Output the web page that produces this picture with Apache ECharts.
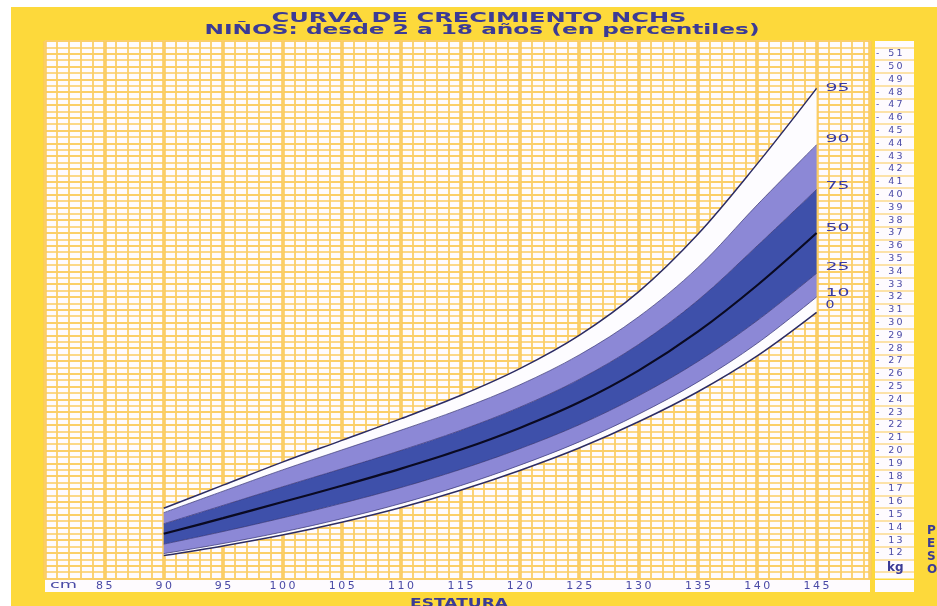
<!DOCTYPE html>
<html>
<head>
<meta charset="utf-8">
<script src="https://cdn.jsdelivr.net/npm/echarts@6/dist/echarts.min.js"></script>
<style>
html,body{margin:0;padding:0;background:#ffffff;}
#frame{position:absolute;left:11px;top:7px;width:926px;height:599px;background:#FDD93B;}
#strip{position:absolute;left:45px;top:580px;width:825px;height:12px;background:#FEFBFE;}
#box{position:absolute;left:875px;top:580px;width:39px;height:12px;background:#FEFBFE;}
#chart{position:absolute;left:0;top:0;width:937px;height:606px;}
</style>
</head>
<body>
<div id="frame"></div>
<div id="strip"></div>
<div id="box"></div>
<div id="chart"></div>
<script>
// ---------- data ----------
const heightCm = [90, 95, 100, 105, 110, 115, 120, 125, 130, 135, 140, 145];
const p0  = [11.8, 12.55, 13.4, 14.4, 15.55, 16.9, 18.45, 20.2, 22.25, 24.6, 27.4, 30.8];
const p10 = [11.95, 12.74, 13.64, 14.68, 15.87, 17.26, 18.86, 20.68, 22.84, 25.36, 28.38, 32.0];
const p25 = [12.69, 13.68, 14.74, 15.88, 17.12, 18.53, 20.15, 22.02, 24.28, 26.96, 30.16, 33.85];
const p50 = [13.5, 14.72, 15.98, 17.25, 18.59, 20.06, 21.77, 23.77, 26.25, 29.29, 32.92, 37.0];
const p75 = [14.28, 15.72, 17.17, 18.58, 20.02, 21.58, 23.39, 25.56, 28.29, 31.74, 36.0, 40.4];
const p90 = [15.15, 16.83, 18.49, 20.05, 21.6, 23.24, 25.14, 27.47, 30.45, 34.31, 39.2, 43.9];
const p95 = [15.5, 17.3, 19.1, 20.8, 22.5, 24.3, 26.4, 29.0, 32.4, 36.9, 42.4, 48.3];
const percentileNames = ['0', '10', '25', '50', '75', '90', '95'];
const cmTicks = [85, 90, 95, 100, 105, 110, 115, 120, 125, 130, 135, 140, 145];
const kgTicks = [12,13,14,15,16,17,18,19,20,21,22,23,24,25,26,27,28,29,30,31,32,33,34,35,36,37,38,39,40,41,42,43,44,45,46,47,48,49,50,51];
const titleLine1 = 'CURVA DE CRECIMIENTO NCHS';
const titleLine2 = 'NIÑOS: desde 2 a 18 años (en percentiles)';
const xTitle = 'ESTATURA';
const yTitle = ['P', 'E', 'S', 'O'];
const xUnit = 'cm';
const yUnit = 'kg';

// ---------- styles ----------
const BLUE = '#3b3b96';
const LABEL_BLUE = '#4a4aa6';
const WHITE_BAND = '#FDFCFF';
const LIGHT_BAND = '#8C88D6';
const DARK_BAND = '#3E50AA';
const FONT = 'DejaVu Sans';
const SMOOTH = 0.35;

function spaced(s, cls) {
  return String(s).split('').map(c => '{' + cls + '|' + c + '}').join('');
}

const chart = echarts.init(document.getElementById('chart'), null, {renderer: 'canvas'});

const curves = [p0, p10, p25, p50, p75, p90, p95];
const bandColors = [WHITE_BAND, LIGHT_BAND, DARK_BAND, DARK_BAND, LIGHT_BAND, WHITE_BAND];

// Points are given as [weight, height] and encoded y <- 0, x <- 1 so that
// the stacked dimension is the weight.
const series = [];
series.push({
  type: 'line', stack: 'band', xAxisIndex: 0, yAxisIndex: 0,
  encode: {x: 1, y: 0},
  data: heightCm.map((h, i) => [p0[i], h]),
  symbol: 'none', smooth: SMOOTH, lineStyle: {width: 0}, silent: true, z: 3
});
for (let b = 0; b < 6; b++) {
  const upper = curves[b + 1], lower = curves[b];
  series.push({
    type: 'line', stack: 'band', xAxisIndex: 0, yAxisIndex: 0,
    encode: {x: 1, y: 0},
    data: heightCm.map((h, i) => [+(upper[i] - lower[i]).toFixed(4), h]),
    symbol: 'none', smooth: SMOOTH, lineStyle: {width: 0},
    areaStyle: {color: bandColors[b], opacity: 1}, silent: true, z: 3
  });
}
// boundary lines on top
curves.forEach((c, k) => {
  let ls;
  if (k === 3) ls = {color: '#0a0a22', width: 2.2};
  else if (k === 0 || k === 6) ls = {color: '#2c2c64', width: 1.5};
  else ls = {color: '#33337a', width: 0.9, opacity: 0.8};
  series.push({
    type: 'line', xAxisIndex: 0, yAxisIndex: 0, name: percentileNames[k],
    data: heightCm.map((h, i) => [h, c[i]]),
    symbol: 'none', smooth: SMOOTH, lineStyle: ls, silent: true, z: 4
  });
});

const option = {
  animation: false,
  backgroundColor: 'transparent',
  textStyle: {fontFamily: FONT},
  grid: [
    {left: 45, top: 41, width: 825, height: 537.6, show: true, backgroundColor: '#FEFBFE', borderWidth: 0},
    {left: 875, top: 41, width: 39, height: 537.6, show: true, backgroundColor: '#FEFBFE', borderWidth: 0}
  ],
  xAxis: [
    {type: 'value', gridIndex: 0, position: 'bottom', min: 80, max: 149.5, interval: 5,
     axisLine: {show: false}, axisTick: {show: false},
     splitLine: {show: true, lineStyle: {color: '#FAC95A', width: 3.5}},
     axisLabel: {show: true, margin: 2,
       formatter: v => cmTicks.includes(v) ? spaced(v, 'd') : '',
       rich: {d: {width: 9.5, align: 'center', fontSize: 11, fontFamily: FONT, color: LABEL_BLUE}}}},
    {type: 'value', gridIndex: 0, position: 'top', min: 80, max: 149.5, interval: 1,
     axisLine: {show: false}, axisTick: {show: false}, axisLabel: {show: false},
     splitLine: {show: true, lineStyle: {color: '#FBCF68', width: 1.8}}},
    {type: 'value', gridIndex: 1, show: false, min: 0, max: 1}
  ],
  yAxis: [
    {type: 'value', gridIndex: 0, min: 10, max: 52, interval: 0.5,
     axisLine: {show: false}, axisTick: {show: false}, axisLabel: {show: false},
     splitLine: {show: true, lineStyle: {color: ['#FBCF68', '#FCD888'], width: 1.8}}},
    {type: 'value', gridIndex: 1, min: 10, max: 52, interval: 0.5,
     axisLine: {show: false}, axisTick: {show: false},
     splitLine: {show: true, lineStyle: {color: ['rgba(0,0,0,0)', '#FBDA8C'], width: 1.5}},
     axisLabel: {inside: true, margin: 1,
       formatter: v => {
         if (kgTicks.includes(v)) return '{dash|-}' + spaced(v, 'd');
         if (v === 11) return '{sp|}{kg|' + yUnit + '}';
         return '';
       },
       rich: {
         dash: {width: 11, align: 'left', fontSize: 9, fontFamily: FONT, color: LABEL_BLUE},
         d: {width: 8.3, align: 'center', fontSize: 9.5, fontFamily: FONT, color: LABEL_BLUE},
         sp: {width: 11},
         kg: {fontSize: 12, fontWeight: 'bold', fontFamily: FONT, color: BLUE, padding: [4, 0, 0, 0]}
       }}}
  ],
  series: series
};
chart.setOption(option);

// ---------- stretched texts (the reference typeface is very wide) ----------
const mctx = document.createElement('canvas').getContext('2d');
function measure(text, font) { mctx.font = font; return mctx.measureText(text).width; }
function wideText(text, cx, cy, size, weight, targetW, align, color) {
  const font = weight + ' ' + size + 'px "' + FONT + '"';
  const sx = targetW / measure(text, font);
  return {type: 'text', x: cx, y: cy, scaleX: sx, scaleY: 1, silent: true, z: 10,
    style: {text: text, font: font, fill: color || BLUE, textAlign: align || 'center', textVerticalAlign: 'middle'}};
}

const graphics = [];
graphics.push(wideText(titleLine1, 479, 18.2, 14, 'bold', 415));
graphics.push(wideText(titleLine2, 482, 30, 14, 'bold', 555));
graphics.push(wideText(xTitle, 459, 603.5, 13, 'bold', 98));
graphics.push(wideText(xUnit, 50, 585.5, 11, 'normal', 27, 'left', LABEL_BLUE));
yTitle.forEach((ch, i) => {
  graphics.push({type: 'text', x: 927, y: 530.5 + i * 13, silent: true, z: 10,
    style: {text: ch, font: 'bold 12px "' + FONT + '"', fill: BLUE, textAlign: 'left', textVerticalAlign: 'middle'}});
});
// percentile labels at the right end of each curve
const labelDy = [-7, -4, -6, -5, -3, -6, 0];
curves.forEach((c, k) => {
  const pt = chart.convertToPixel({xAxisIndex: 0, yAxisIndex: 0}, [heightCm[heightCm.length - 1], c[c.length - 1]]);
  const name = percentileNames[k];
  const w = name.length === 1 ? 9 : 24;
  graphics.push(wideText(name, pt[0] + 9, pt[1] + labelDy[k], 11, 'normal', w, 'left', '#3b3ba0'));
});
chart.setOption({graphic: graphics});
</script>
</body>
</html>
